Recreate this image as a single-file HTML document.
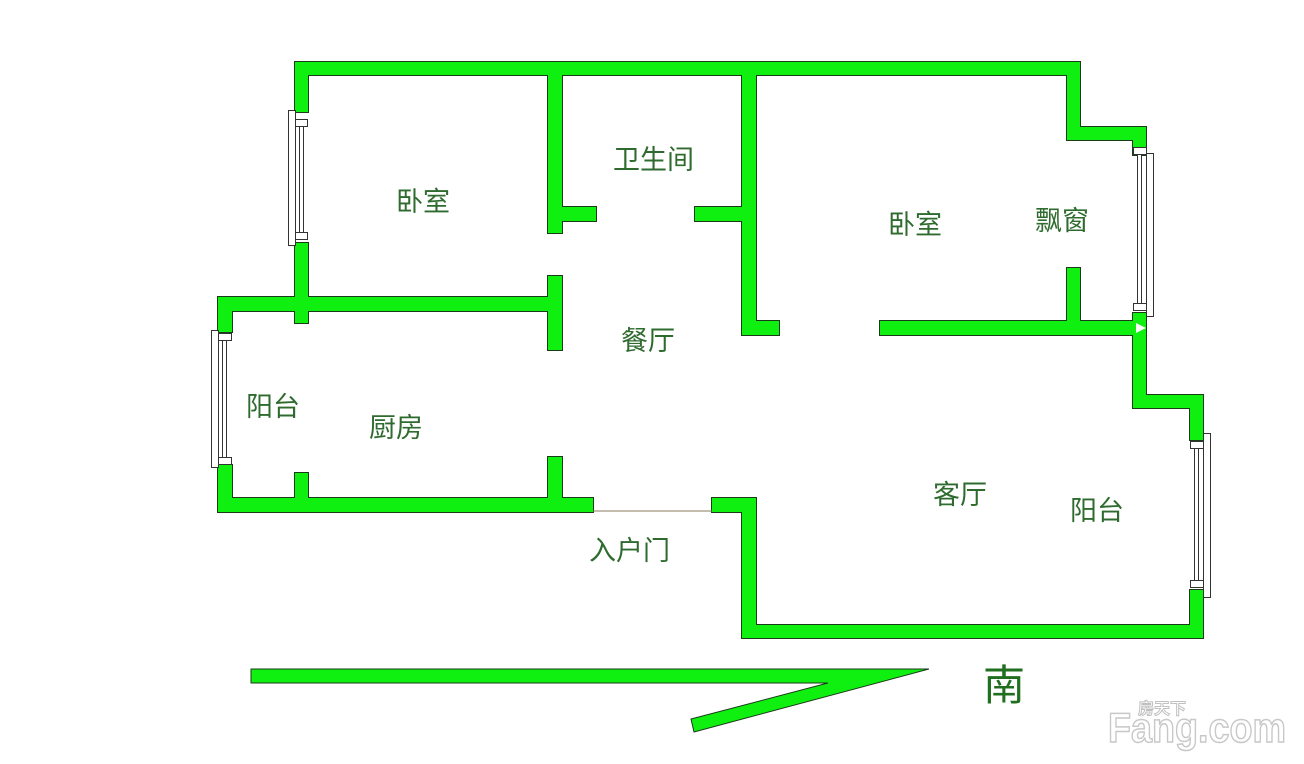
<!DOCTYPE html>
<html><head><meta charset="utf-8"><style>
html,body{margin:0;padding:0;background:#fff;}
svg{display:block;}
text{font-family:"Liberation Sans","Noto Sans CJK SC",sans-serif;fill:#2f6b2f;font-size:27px;}
</style></head><body>
<svg width="1304" height="764" viewBox="0 0 1304 764" xmlns="http://www.w3.org/2000/svg">
<defs>
<g id="walls">
<rect x="295" y="62" width="785" height="13"/>
<rect x="295" y="62" width="13" height="50"/>
<rect x="295" y="243" width="13" height="80"/>
<rect x="218" y="297" width="344" height="14"/>
<rect x="218" y="297" width="14" height="35"/>
<rect x="218" y="465" width="14" height="47"/>
<rect x="218" y="498" width="375" height="14"/>
<rect x="295" y="473" width="13" height="25"/>
<rect x="548" y="457" width="14" height="41"/>
<rect x="548" y="75" width="14" height="158"/>
<rect x="562" y="207" width="34" height="14"/>
<rect x="548" y="276" width="14" height="74"/>
<rect x="742" y="75" width="14" height="260"/>
<rect x="695" y="207" width="47" height="14"/>
<rect x="756" y="321" width="23" height="14"/>
<rect x="880" y="321" width="266" height="14"/>
<rect x="1067" y="268" width="13" height="53"/>
<rect x="1067" y="62" width="13" height="78"/>
<rect x="1067" y="127" width="79" height="13"/>
<rect x="1133" y="127" width="13" height="28"/>
<rect x="1133" y="313" width="13" height="95"/>
<rect x="1133" y="395" width="70" height="13"/>
<rect x="1190" y="395" width="13" height="45"/>
<rect x="1190" y="590" width="13" height="48"/>
<rect x="742" y="625" width="461" height="13"/>
<rect x="742" y="498" width="14" height="140"/>
<rect x="712" y="498" width="44" height="14"/>
</g>
</defs>
<use href="#walls" fill="#10f010" stroke="#1a3a1a" stroke-width="2"/>
<use href="#walls" fill="#10f010"/>
<polygon points="251,669 929,669 694,732 691,719 828,683 251,683" fill="#10f010" stroke="#1a3a1a" stroke-width="1"/>
<polygon points="1136,323 1146,328 1136,333" fill="#fff"/>
<line x1="593" y1="511" x2="712" y2="511" stroke="#8a7a5a" stroke-width="1"/>
<g fill="#fff" stroke="#333" stroke-width="1">
<rect x="288.5" y="110.5" width="7" height="135"/>
<rect x="295.5" y="119.5" width="12" height="7"/>
<rect x="295.5" y="232.5" width="12" height="7"/>
<rect x="299.5" y="126.5" width="4" height="106"/>
<rect x="211.5" y="330.5" width="7" height="137"/>
<rect x="218.5" y="333.5" width="13" height="7"/>
<rect x="218.5" y="457.5" width="13" height="7"/>
<rect x="222.5" y="340.5" width="4" height="117"/>
<rect x="1146.5" y="153.5" width="7" height="163"/>
<rect x="1133.5" y="147.5" width="13" height="7"/>
<rect x="1133.5" y="303.5" width="13" height="7"/>
<rect x="1137.5" y="154.5" width="4" height="149"/>
<rect x="1203.5" y="433.5" width="7" height="164"/>
<rect x="1190.5" y="441.5" width="13" height="7"/>
<rect x="1190.5" y="580.5" width="13" height="7"/>
<rect x="1194.5" y="448.5" width="4" height="132"/>
</g>
<text x="396" y="211">卧室</text>
<text x="613" y="169">卫生间</text>
<text x="621" y="350">餐厅</text>
<text x="246" y="416">阳台</text>
<text x="369" y="437">厨房</text>
<text x="888" y="234">卧室</text>
<text x="1035" y="230">飘窗</text>
<text x="933" y="504">客厅</text>
<text x="1070" y="520">阳台</text>
<text x="589" y="560">入户门</text>
<text x="983" y="700" style="font-size:42px;fill:#1f6f1f">南</text>
<text x="1108" y="742" textLength="178" lengthAdjust="spacingAndGlyphs" style="font-size:42px;font-weight:bold;fill:#fff;stroke:#c8c8c8;stroke-width:1.5">Fang.com</text>
<text x="1138" y="714" style="font-size:16px;font-weight:bold;fill:#fff;stroke:#c0c0c0;stroke-width:1">房天下</text>
</svg>
</body></html>
